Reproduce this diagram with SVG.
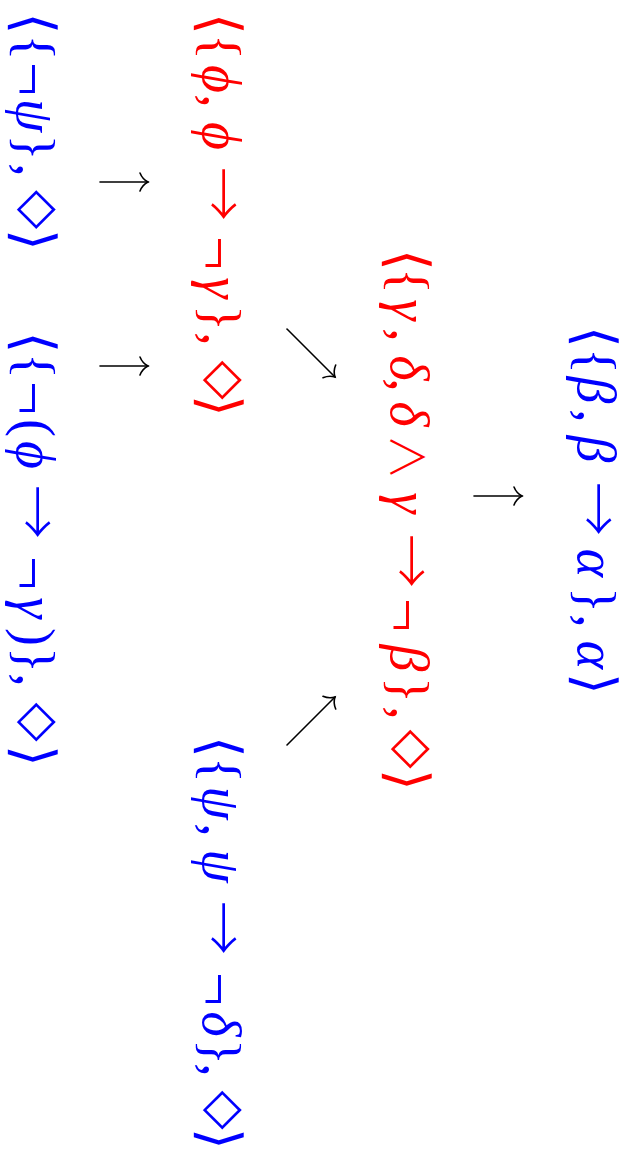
<svg xmlns="http://www.w3.org/2000/svg" width="629" height="1154" viewBox="0 0 629 1154">
<style>
.t{font-family:'Liberation Serif','DejaVu Serif',serif;font-size:54px;text-anchor:middle}
.b{fill:#0000ff}
.r{fill:#ff0000}
.i{font-style:italic}
.d{font-family:'DejaVu Sans',sans-serif;font-size:51px}
.ab{font-family:'DejaVu Sans',sans-serif;font-size:56px}
.n{font-family:'Liberation Serif',serif;font-size:60px}
.ar{font-family:'Noto Sans CJK JP','DejaVu Sans',sans-serif;font-size:54px;font-weight:300}
.w{font-family:'Noto Sans CJK JP','DejaVu Sans',sans-serif;font-size:46px;font-weight:300}
.c line{stroke:#000;stroke-width:1.6;fill:none;stroke-linecap:round}
</style>
<defs>
<path id="ah" d="M -8,-9 C -6,-4 -2,-1 0,0 C -2,1 -6,4 -8,9" fill="none" stroke="#000" stroke-width="1.6" stroke-linecap="round"/>
</defs>
<rect width="629" height="1154" fill="#fff"/>
<g id="n1">
<text class="t b" transform="translate(16.5,0) rotate(90)"><tspan class="ab" x="23.5" y="2">⟨</tspan><tspan x="47.5" y="0">{</tspan><tspan class="n" x="79" y="3">¬</tspan><tspan class="i" x="115.5" y="0">ψ</tspan><tspan x="147.5">}</tspan><tspan x="170">,</tspan><tspan class="d" x="209.5" y="-6">◇</tspan><tspan class="ab" x="240" y="2">⟩</tspan></text>
</g>
<g id="n2">
<text class="t b" transform="translate(16.5,0) rotate(90)"><tspan class="ab" x="342.5" y="2">⟨</tspan><tspan x="366" y="0">{</tspan><tspan class="n" x="398" y="3">¬</tspan><tspan x="428" y="0">(</tspan><tspan class="i" x="455">ϕ</tspan><tspan class="ar" x="512">→</tspan><tspan class="n" x="573" y="3">¬</tspan><tspan class="i" x="608" y="0">γ</tspan><tspan x="637">)</tspan><tspan x="660">}</tspan><tspan x="680">,</tspan><tspan class="d" x="722" y="-6">◇</tspan><tspan class="ab" x="756" y="2">⟩</tspan></text>
</g>
<g id="n3">
<text class="t r" transform="translate(202.5,0) rotate(90)"><tspan class="ab" x="24" y="2">⟨</tspan><tspan x="47" y="0">{</tspan><tspan class="i" x="79">ϕ</tspan><tspan x="101">,</tspan><tspan class="i" x="136">ϕ</tspan><tspan class="ar" x="194">→</tspan><tspan class="n" x="253" y="3">¬</tspan><tspan class="i" x="288" y="0">γ</tspan><tspan x="318">}</tspan><tspan x="339">,</tspan><tspan class="d" x="380" y="-6">◇</tspan><tspan class="ab" x="406" y="2">⟩</tspan></text>
</g>
<g id="n4">
<text class="t r" transform="translate(390.5,0) rotate(90)"><tspan class="ab" x="260" y="2">⟨</tspan><tspan x="281" y="0">{</tspan><tspan class="i" x="310">γ</tspan><tspan x="335">,</tspan><tspan class="i" x="368">δ</tspan><tspan x="385">,</tspan><tspan class="i" x="414">δ</tspan><tspan class="w" x="457">∧</tspan><tspan class="i" x="503">γ</tspan><tspan class="ar" x="561">→</tspan><tspan class="n" x="615" y="3">¬</tspan><tspan class="i" x="658" y="0">β</tspan><tspan x="690">}</tspan><tspan x="713">,</tspan><tspan class="d" x="749" y="-6">◇</tspan><tspan class="ab" x="780" y="2">⟩</tspan></text>
</g>
<g id="n5">
<text class="t b" transform="translate(577.5,0) rotate(90)"><tspan class="ab" x="337" y="2">⟨</tspan><tspan x="361" y="0">{</tspan><tspan class="i" x="390">β</tspan><tspan x="416">,</tspan><tspan class="i" x="449">β</tspan><tspan class="ar" x="509">→</tspan><tspan class="i" x="563">α</tspan><tspan x="600">}</tspan><tspan x="621">,</tspan><tspan class="i" x="655">α</tspan><tspan class="ab" x="684" y="2">⟩</tspan></text>
</g>
<g id="n6">
<text class="t b" transform="translate(202.5,0) rotate(90)"><tspan class="ab" x="747" y="2">⟨</tspan><tspan x="770" y="0">{</tspan><tspan class="i" x="803">ψ</tspan><tspan x="830">,</tspan><tspan class="i" x="866">ψ</tspan><tspan class="ar" x="928">→</tspan><tspan class="n" x="989" y="3">¬</tspan><tspan class="i" x="1024" y="0">δ</tspan><tspan x="1052">}</tspan><tspan x="1070">,</tspan><tspan class="d" x="1110" y="-6">◇</tspan><tspan class="ab" x="1139" y="2">⟩</tspan></text>
</g>
<g id="connectors" class="c">
<line x1="100" y1="182" x2="148" y2="182"/><use href="#ah" transform="translate(148,182)"/>
<line x1="100" y1="366" x2="148" y2="366"/><use href="#ah" transform="translate(148,366)"/>
<line x1="287" y1="329" x2="335" y2="377"/><use href="#ah" transform="translate(335,377) rotate(45)"/>
<line x1="287" y1="745" x2="335" y2="697"/><use href="#ah" transform="translate(335,697) rotate(-45)"/>
<line x1="474" y1="496" x2="522" y2="496"/><use href="#ah" transform="translate(522,496)"/>
</g>
</svg>
